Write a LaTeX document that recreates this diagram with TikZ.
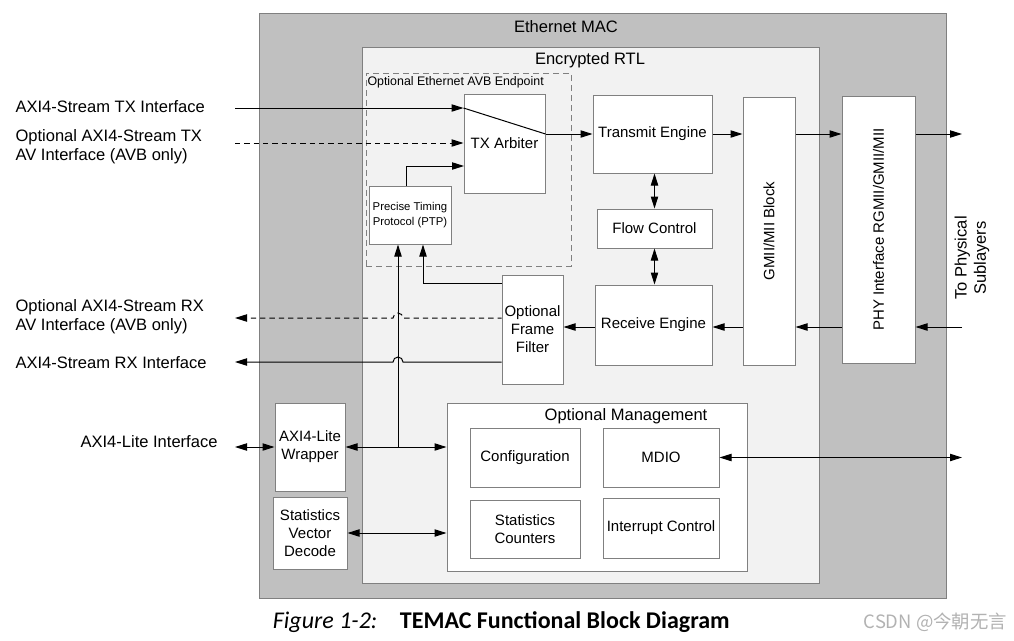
\documentclass[tikz,border=0pt]{standalone}
\usepackage{fontspec}
\setmainfont{Liberation Sans}
\newfontfamily\capfont{Carlito}
\newfontfamily\cjkfont{Noto Sans CJK SC}
\usetikzlibrary{arrows.meta}
\definecolor{macgray}{RGB}{192,192,192}
\definecolor{rtlgray}{RGB}{242,242,242}
\definecolor{edgegray}{RGB}{128,128,128}
\definecolor{markgray}{RGB}{178,178,178}
\tikzset{every picture/.style={line width=0.75pt}}
\tikzset{
	blk/.style={draw=edgegray, fill=white, inner sep=0pt, align=center, font=\fontsize{11.25}{13.5}\selectfont},
	sig/.style={-{Triangle[length=9pt,width=5.5pt]}},
	bisig/.style={{Triangle[length=9pt,width=5.5pt]}-{Triangle[length=9pt,width=5.5pt]}},
	avsig/.style={dash pattern={on 4pt off 3pt}},
	iflabel/.style={anchor=west, align=left, inner sep=0pt, font=\fontsize{12.4}{14.4}\selectfont},
	title/.style={font=\fontsize{12.4}{14.4}\selectfont},
}

\begin{document}
\begin{tikzpicture}[x=0.75pt,y=0.75pt,yscale=-1]
		\useasboundingbox (0,0) rectangle (1014,640);
		
		%Shape: Rectangle [Ethernet MAC]
		\node[draw=edgegray, fill=macgray, inner sep=0pt, minimum width=515.25pt, minimum height=438.75pt] (mac) at (602.5,305.5) {};
		%Shape: Rectangle [Encrypted RTL]
		\node[draw=edgegray, fill=rtlgray, inner sep=0pt, minimum width=342.75pt, minimum height=402pt] (rtl) at (590.5,315) {};
		%Shape: Rectangle [AVB endpoint]
		\node[draw=edgegray, dash pattern={on 4.5pt off 3pt}, inner sep=0pt, minimum width=153.75pt, minimum height=144.75pt] (avb) at (468.5,169.5) {};
		
		%Shape: Rectangle [blocks]
		\node[blk, minimum width=60.75pt, minimum height=74.25pt] (arb) at (504.5,143.5) {};
		\node[blk, minimum width=61.5pt, minimum height=43.5pt, font=\fontsize{8.5}{11}\selectfont] (ptp) at (410,215) {Precise Timing\\Protocol (PTP)};
		\node[blk, minimum width=45.75pt, minimum height=81.75pt] (filt) at (532.5,329.5) {Optional\\Frame\\Filter};
		\node[blk, minimum width=89.25pt, minimum height=58.5pt] (txe) at (652.5,134) {Transmit Engine};
		\node[blk, minimum width=86.25pt, minimum height=29.25pt] (flow) at (654.5,228.5) {Flow Control};
		\node[blk, minimum width=87.75pt, minimum height=60pt] (rxe) at (653.5,325) {Receive Engine};
		\node[blk, minimum width=39pt, minimum height=201pt] (gmii) at (769,231) {};
		\node[blk, minimum width=54.75pt, minimum height=200.25pt] (phy) at (878.5,229.5) {};
		\node[blk, minimum width=52.5pt, minimum height=66pt] (wrap) at (310,447) {AXI4-Lite\\Wrapper};
		\node[blk, minimum width=55.5pt, minimum height=54pt] (svd) at (310,533) {Statistics\\Vector\\Decode};
		\node[blk, minimum width=225pt, minimum height=126pt] (mgmt) at (597,487) {};
		\node[blk, minimum width=82.5pt, minimum height=44.25pt] (cfg) at (525,457.5) {Configuration};
		\node[blk, minimum width=87pt, minimum height=44.25pt] (mdio) at (661,457.5) {MDIO};
		\node[blk, minimum width=82.5pt, minimum height=43.5pt] (cnt) at (525,529) {Statistics\\Counters};
		\node[blk, minimum width=87pt, minimum height=45pt] (irq) at (661,528) {Interrupt Control};
		
		% Text Node
		\node[title] (mactitle) at (566,27) {Ethernet MAC};
		% Text Node
		\node[title] (rtltitle) at (590,60) {Encrypted RTL};
		% Text Node
		\node[anchor=west, inner sep=0pt, font=\fontsize{9.3}{11}\selectfont] (avbtitle) at (367,82) {Optional Ethernet AVB Endpoint};
		% Text Node
		\node[font=\fontsize{11.25}{13.5}\selectfont] (arbtext) at (504.5,143) {TX Arbiter};
		% Text Node
		\node[rotate=90, font=\fontsize{11.25}{13.5}\selectfont] (gmiitext) at (gmii) {GMII/MII Block};
		% Text Node
		\node[rotate=90, font=\fontsize{11.25}{13.5}\selectfont] (phytext) at (phy) {PHY Interface RGMII/GMII/MII};
		% Text Node
		\node[title] (mgmttitle) at (626,416) {Optional Management};
		% Text Node
		\node[rotate=90, align=center, title] (tophys) at (972,258) {To Physical\\Sublayers};
		
		% Text Node
		\node[iflabel] (txlab) at (15,107) {AXI4-Stream TX Interface};
		% Text Node
		\node[iflabel] (txavlab) at (15,146.5) {Optional AXI4-Stream TX\\AV Interface (AVB only)};
		% Text Node
		\node[iflabel] (rxavlab) at (15,316.5) {Optional AXI4-Stream RX\\AV Interface (AVB only)};
		% Text Node
		\node[iflabel] (rxlab) at (15,363) {AXI4-Stream RX Interface};
		% Text Node
		\node[iflabel, anchor=east] (litelab) at (218,442) {AXI4-Lite Interface};
		
		%free ends
		\coordinate (txin) at (235,108);
		\coordinate (txavin) at (235,143);
		\coordinate (ptpin) at (464,166);
		\coordinate (rxavout) at (235,318);
		\coordinate (rxout) at (235,362);
		\coordinate (litein) at (wrap.west -| 235,0);
		\coordinate (phyout) at (txe.east -| 962,0);
		\coordinate (phyin) at (962,327);
		\coordinate (mdioext) at (mdio.east -| 962,0);
		\coordinate (tap) at ([xshift=-9pt]ptp.south |- wrap.east);
		\coordinate (hopa) at (tap |- rxavout);
		\coordinate (hopb) at (tap |- rxout);
		
		%Straight Lines [TX path]
		\draw[sig] (txin) -- (arb.west |- txin);
		\draw[sig, avsig] (txavin) -- (arb.west |- txavin);
		\draw[sig] ([xshift=-3pt]ptp.north) |- (ptpin);
		\draw (arb.west |- txin) -- (arb.east |- txe.west);
		\draw[sig] (arb.east |- txe.west) -- (txe.west);
		\draw[sig] (txe.east) -- (gmii.west |- txe.east);
		\draw[sig] (gmii.east |- txe.east) -- (phy.west |- txe.east);
		\draw[sig] (phy.east |- txe.east) -- (phyout);
		
		%Straight Lines [flow control]
		\draw[bisig] (txe.south -| flow.north) -- (flow.north);
		\draw[bisig] (flow.south) -- (rxe.north -| flow.south);
		
		%Straight Lines [RX path]
		\draw[sig] (phyin) -- (phy.east |- phyin);
		\draw[sig] (phy.west |- phyin) -- (gmii.east |- phyin);
		\draw[sig] (gmii.west |- phyin) -- (rxe.east |- phyin);
		\draw[sig] (rxe.west |- phyin) -- (filt.east |- phyin);
		\draw[sig] (filt.west |- 0,283) -| ([xshift=9.75pt]ptp.south);
		\draw[sig, dash pattern={on 4pt off 3pt}, dash phase=1pt] (filt.west |- rxavout) -- ([xshift=3.75pt]hopa) arc[start angle=0, end angle=-180, radius=5] -- (rxavout);
		\draw[sig] (filt.west |- rxout) -- ([xshift=3.75pt]hopb) arc[start angle=0, end angle=-180, radius=5] -- (rxout);
		
		%Straight Lines [host side]
		\draw[bisig] (litein) -- (wrap.west);
		\draw[bisig] (wrap.east) -- (mgmt.west |- wrap.east);
		\draw[sig] (tap) -- ([xshift=-9pt]ptp.south);
		\draw[bisig] (svd.east) -- (mgmt.west |- svd.east);
		\draw[bisig] (mdio.east) -- (mdioext);
		
		% Text Node
		\node[anchor=west, font=\capfont\fontsize{18}{21}\selectfont\itshape] (capnum) at (268,622) {Figure 1-2:};
		% Text Node
		\node[anchor=west, font=\capfont\fontsize{18}{21}\selectfont\bfseries] (captext) at (395,622) {TEMAC Functional Block Diagram};
		% Text Node
		\node[anchor=east, text=markgray, font=\cjkfont\fontsize{13.8}{16}\selectfont] (mark) at (1012,622) {CSDN @今朝无言};
\end{tikzpicture}
\end{document}
